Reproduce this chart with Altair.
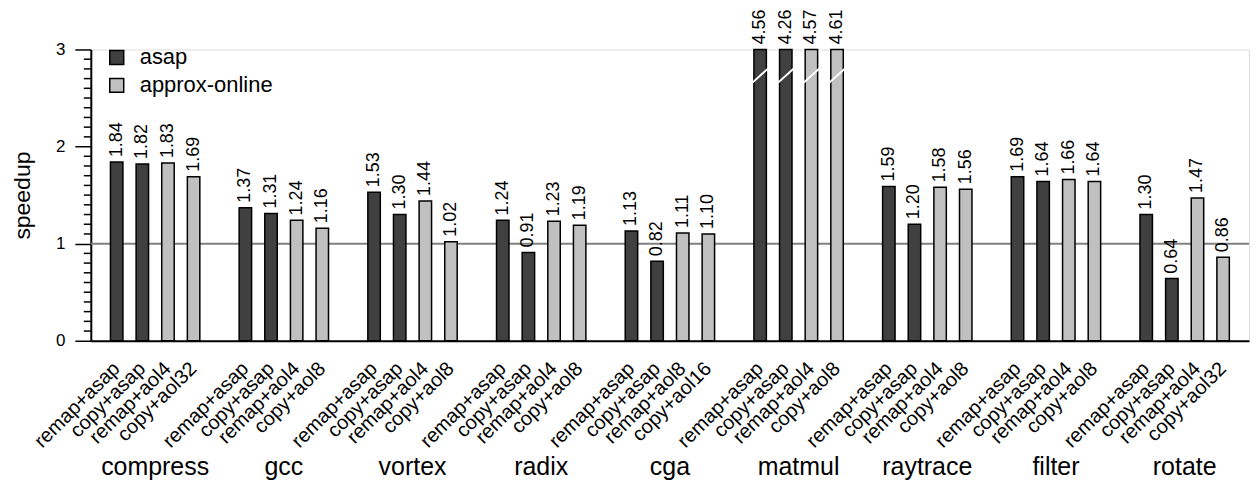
import altair as alt
import pandas as pd

FONT = "Liberation Sans"

groups = ["compress", "gcc", "vortex", "radix", "cga", "matmul", "raytrace", "filter", "rotate"]
configs = [
    ["remap+asap", "copy+asap", "remap+aol4", "copy+aol32"],
    ["remap+asap", "copy+asap", "remap+aol4", "copy+aol8"],
    ["remap+asap", "copy+asap", "remap+aol4", "copy+aol8"],
    ["remap+asap", "copy+asap", "remap+aol4", "copy+aol8"],
    ["remap+asap", "copy+asap", "remap+aol8", "copy+aol16"],
    ["remap+asap", "copy+asap", "remap+aol4", "copy+aol8"],
    ["remap+asap", "copy+asap", "remap+aol4", "copy+aol8"],
    ["remap+asap", "copy+asap", "remap+aol4", "copy+aol8"],
    ["remap+asap", "copy+asap", "remap+aol4", "copy+aol32"],
]
speedups = [
    [1.84, 1.82, 1.83, 1.69],
    [1.37, 1.31, 1.24, 1.16],
    [1.53, 1.30, 1.44, 1.02],
    [1.24, 0.91, 1.23, 1.19],
    [1.13, 0.82, 1.11, 1.10],
    [4.56, 4.26, 4.57, 4.61],
    [1.59, 1.20, 1.58, 1.56],
    [1.69, 1.64, 1.66, 1.64],
    [1.30, 0.64, 1.47, 0.86],
]
slot_types = ["asap", "asap", "approx-online", "approx-online"]
series = ["asap", "approx-online"]
series_colors = ["#404040", "#c0c0c0"]
y_major = [0, 1, 2, 3]
y_minor = [round(i * 0.1, 1) for i in range(31) if i % 10 != 0]
y_max = 3
break_at = 2.73

rows = []
for g, cfgs, vals in zip(groups, configs, speedups):
    for i, (c, v) in enumerate(zip(cfgs, vals)):
        rows.append({"group": g, "slot": i, "config": c, "value": v, "type": slot_types[i]})
df = pd.DataFrame(rows)

PLOT_W = 1161
PLOT_H = 292

x_enc = alt.X(
    "group:N",
    sort=groups,
    scale=alt.Scale(paddingInner=0, paddingOuter=0),
    axis=alt.Axis(
        title=None, labelFontSize=25, labelPadding=114, ticks=False,
        domainColor="black", domainWidth=2, labelAngle=0,
        labelFont=FONT, labelColor="black",
    ),
)
xo_enc = alt.XOffset("slot:N", scale=alt.Scale(paddingInner=0.514, paddingOuter=0.767))
y_enc = alt.Y(
    "value:Q",
    scale=alt.Scale(domain=[0, y_max], clamp=True, nice=False, zero=True),
    axis=alt.Axis(
        title="speedup", titleFontSize=23, titleFont=FONT, titleFontWeight="normal",
        titleColor="black", titlePadding=21,
        values=y_major, format="d", labelOverlap=False,
        labelFontSize=17, labelFont=FONT, labelColor="black", labelPadding=10,
        tickSize=16, tickColor="black", tickWidth=1.5,
        domainColor="black", domainWidth=2, grid=False,
    ),
)

ref = alt.Chart(pd.DataFrame({"value": [1.0]})).mark_rule(
    color="#808080", strokeWidth=2
).encode(y=y_enc)

minor = alt.Chart(pd.DataFrame({"value": y_minor})).mark_rule(
    color="black", strokeWidth=1.5
).encode(y=y_enc, x=alt.value(-7), x2=alt.value(0))

bars = alt.Chart(df).mark_bar(stroke="black", strokeWidth=1.5).encode(
    x=x_enc,
    xOffset=xo_enc,
    y=y_enc,
    fill=alt.Fill(
        "type:N",
        scale=alt.Scale(domain=series, range=series_colors),
        legend=alt.Legend(
            title=None, orient="none", legendX=15, legendY=-3, padding=0,
            symbolType="square", symbolSize=196, symbolStrokeColor="black",
            symbolStrokeWidth=1.5, symbolOpacity=1,
            labelFontSize=22, labelFont=FONT, labelColor="black",
            labelOffset=12, rowPadding=6,
        ),
    ),
)

breaks = alt.Chart(df).transform_filter(f"datum.value > {y_max}").transform_calculate(
    value=f"{break_at}"
).mark_point(
    shape="M-1,0.9L1,-0.9", size=256, stroke="white", strokeWidth=2,
    filled=False, opacity=1,
).encode(x=x_enc, xOffset=xo_enc, y=y_enc)

value_labels = alt.Chart(df).mark_text(
    angle=270, align="left", baseline="middle", dx=5, fontSize=18,
    font=FONT, color="black",
).encode(
    x=x_enc, xOffset=xo_enc, y=y_enc,
    text=alt.Text("value:Q", format=".2f"),
)

config_labels = alt.Chart(df).mark_text(
    angle=315, align="right", baseline="middle", fontSize=20,
    font=FONT, color="black",
).encode(
    x=x_enc, xOffset=xo_enc, y=alt.value(PLOT_H + 25),
    text="config:N",
)

chart = alt.layer(ref, minor, bars, breaks, value_labels, config_labels).properties(
    width=PLOT_W, height=PLOT_H,
    padding={"left": 3, "top": 0, "right": 0, "bottom": 0},
).configure_view(stroke=None).configure(font=FONT)

chart.save("out.html", embed_options={"renderer": "svg", "actions": False})
